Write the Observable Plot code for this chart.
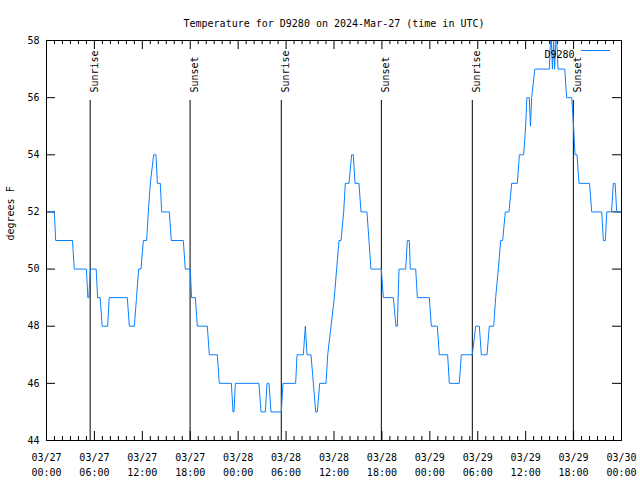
<!DOCTYPE html>
<html><head><meta charset="utf-8">
<script src="https://cdn.jsdelivr.net/npm/d3@7"></script>
<script src="https://cdn.jsdelivr.net/npm/@observablehq/plot@0.6"></script>
<style>body{margin:0;background:#fff} svg{display:block}</style>
</head><body><div id="chart"></div>
<script>
const titleText = "Temperature for D9280 on 2024-Mar-27 (time in UTC)";
const yLabelText = "degrees F";
const seriesName = "D9280";

// hours since 2024-03-27 00:00 UTC
const hours = [0,0.98,1.15,3.25,3.48,4.99,5.18,5.3,5.49,6.22,6.4,6.72,6.97,7.66,7.85,10.12,10.37,11.0,11.27,11.54,11.83,12.13,12.54,12.75,13.0,13.42,13.71,13.88,14.25,14.42,15.38,15.63,17.13,17.38,18.01,18.16,18.64,18.89,20.14,20.39,21.39,21.64,23.15,23.35,23.48,23.65,26.6,26.86,27.4,27.61,27.86,28.11,29.4,29.61,31.2,31.37,32.16,32.41,32.62,33.12,33.71,33.91,34.21,35.0,35.21,35.63,36.04,36.33,36.63,36.88,37.21,37.42,37.88,38.21,38.42,38.63,39.13,39.38,40.13,40.38,40.63,41.93,42.18,43.43,43.76,43.93,44.14,44.98,45.18,45.43,45.56,46.23,46.44,47.94,48.19,48.94,49.19,50.23,50.44,51.69,51.94,53.32,53.74,54.2,54.45,55.16,55.45,56.0,56.24,56.58,56.87,57.12,57.45,57.91,58.25,58.96,59.21,59.75,60.0,60.15,60.45,60.6,60.75,61.15,62.96,63.1,63.22,63.35,63.5,63.62,63.78,63.9,64.05,64.9,65.13,65.77,66.0,66.18,66.43,66.68,68.0,68.27,69.52,69.73,69.98,70.16,70.75,70.98,71.2,71.4,72];
const temps = [52,52,51,51,50,50,49,49,50,50,49,49,48,48,49,49,48,48,49,50,50,51,51,52,53,54,54,53,53,52,52,51,51,50,50,49,49,48,48,47,47,46,46,45,45,46,46,45,45,46,46,45,45,46,46,47,47,48,47,47,45,45,46,46,47,48,49,50,51,51,52,53,53,54,54,53,53,52,52,51,50,50,49,49,48,48,50,50,51,51,50,50,49,49,48,48,47,47,46,46,47,47,48,48,47,47,48,48,49,50,51,51,52,52,53,53,54,54,55,56,56,55,56,57,57,58,58,57,58,57,58,58,57,57,56,56,55,54,54,53,53,52,52,51,51,52,52,53,53,52,52];

const sunHours = [5.47, 17.98, 29.4, 41.93, 53.32, 65.97];
const sunLabels = ["Sunrise","Sunset","Sunrise","Sunset","Sunrise","Sunset"];

const xMajorHours = [0,6,12,18,24,30,36,42,48,54,60,66,72];
const xTickLabels = ["03/27\n00:00","03/27\n06:00","03/27\n12:00","03/27\n18:00","03/28\n00:00","03/28\n06:00","03/28\n12:00","03/28\n18:00","03/29\n00:00","03/29\n06:00","03/29\n12:00","03/29\n18:00","03/30\n00:00"];
const xMinorHours = [1,2,3,4,5,7,8,9,10,11,13,14,15,16,17,19,20,21,22,23,25,26,27,28,29,31,32,33,34,35,37,38,39,40,41,43,44,45,46,47,49,50,51,52,53,55,56,57,58,59,61,62,63,64,65,67,68,69,70,71];
const yTicks = [44,46,48,50,52,54,56,58];

const t0 = Date.UTC(2024, 2, 27);
const toDate = h => new Date(t0 + h * 3600e3);
const data = hours.map((h, i) => ({t: toDate(h), v: temps[i]}));
const sun = sunHours.map((h, i) => ({t: toDate(h), label: sunLabels[i]}));
const majors = xMajorHours.map(toDate);
const minors = xMinorHours.map(toDate);

const W = 640, H = 480, mL = 46, mR = 19, mT = 40, mB = 40;
const fw = W - mL - mR, fh = H - mT - mB;
const lineColor = "#0a80ff";
const font = "DejaVu Sans Mono, Liberation Mono, monospace";

const chart = Plot.plot({
  width: W, height: H,
  marginLeft: mL, marginRight: mR, marginTop: mT, marginBottom: mB,
  style: {fontFamily: font, fontSize: "10px", color: "black", background: "white"},
  x: {type: "utc", domain: [toDate(0), toDate(72)]},
  y: {domain: [44, 58]},
  marks: [
    Plot.ruleX(minors, {stroke: "black", insetTop: fh - 4}),
    Plot.ruleX(minors, {stroke: "black", insetBottom: fh - 4}),
    Plot.ruleX(majors, {stroke: "black", insetTop: fh - 9}),
    Plot.ruleX(majors, {stroke: "black", insetBottom: fh - 9}),
    Plot.ruleY(yTicks, {stroke: "black", insetRight: fw - 9}),
    Plot.ruleY(yTicks, {stroke: "black", insetLeft: fw - 9}),
    Plot.ruleX(sun, {x: "t", stroke: "black", insetTop: 60}),
    Plot.text(sun, {x: "t", text: "label", frameAnchor: "top", rotate: -90, textAnchor: "start", dy: 52, dx: 1, fill: "black"}),
    Plot.line(data, {x: "t", y: "v", stroke: lineColor, strokeWidth: 1}),
    Plot.frame({stroke: "black"}),
    Plot.axisX(majors, {tickSize: 0, tickPadding: 10, lineHeight: 1.5, label: null,
      tickFormat: d => xTickLabels[majors.findIndex(m => +m === +d)]}),
    Plot.axisY(yTicks, {tickSize: 0, tickPadding: 7, label: null}),
    Plot.text([titleText], {frameAnchor: "top", dy: -21, dx: 0, fill: "black"}),
    Plot.text([yLabelText], {frameAnchor: "left", rotate: -90, dx: -36, fill: "black"}),
    Plot.text([seriesName], {frameAnchor: "top-right", dx: -47, dy: 10, textAnchor: "end", fill: "black"})
  ]
});
document.getElementById("chart").append(chart);
d3.select(chart).append("line")
  .attr("x1", W - mR - 40).attr("x2", W - mR - 11)
  .attr("y1", mT + 10.5).attr("y2", mT + 10.5)
  .attr("stroke", lineColor).attr("stroke-width", 1);
</script>
</body></html>
